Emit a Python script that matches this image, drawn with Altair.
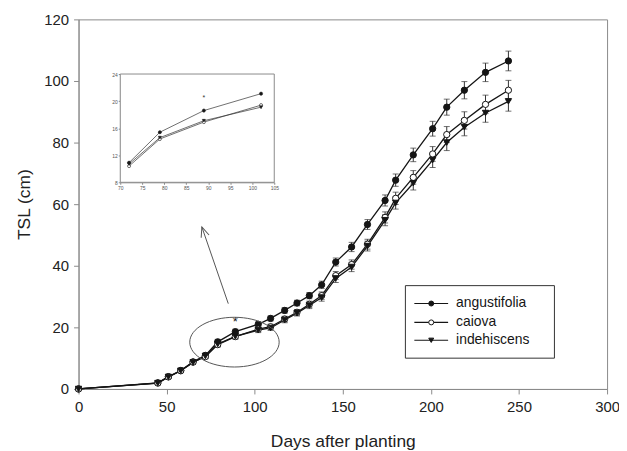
import altair as alt
import pandas as pd

# ---------------- data ----------------
series_names = ["angustifolia", "caiova", "indehiscens"]
days = [0, 45, 51, 58, 65, 72, 79, 89, 102, 109, 117, 124, 131, 138, 146, 155,
        164, 174, 180, 190, 201, 209, 219, 231, 244]
angustifolia = [0, 2.0, 4.0, 6.0, 8.8, 10.9, 15.3, 18.6, 21.0, 22.9, 25.5, 27.9, 30.3,
                33.8, 41.2, 46.1, 53.4, 61.2, 67.8, 76.0, 84.5, 91.5, 97.0, 102.8, 106.5]
caiova = [0, 1.9, 3.9, 5.9, 8.7, 10.5, 14.4, 17.0, 19.4, 20.2, 22.7, 24.9, 27.5,
          30.3, 36.8, 40.4, 47.0, 55.7, 61.9, 68.7, 76.3, 82.6, 87.2, 92.4, 97.0]
indehiscens = [0, 1.9, 3.9, 5.9, 8.6, 10.7, 14.6, 17.1, 19.1, 19.8, 22.4, 24.6, 27.1,
               29.7, 35.9, 39.6, 46.4, 54.8, 60.4, 66.8, 74.3, 80.0, 85.0, 89.6, 93.4]
err_ang = [0, 0.3, 0.4, 0.5, 0.6, 0.7, 0.8, 0.8, 0.8, 0.8, 0.9, 0.9, 1.0, 1.2, 1.3,
           1.5, 1.6, 1.8, 2.0, 2.2, 2.4, 2.6, 2.8, 3.0, 3.2]
err_cai = [0, 0.3, 0.4, 0.5, 0.6, 0.7, 0.8, 0.8, 0.8, 0.8, 0.9, 0.9, 1.0, 1.2, 1.3,
           1.5, 1.6, 1.8, 2.0, 2.2, 2.4, 2.6, 2.8, 3.0, 3.2]
err_ind = [0, 0.3, 0.4, 0.5, 0.6, 0.7, 0.8, 0.8, 0.8, 0.8, 0.9, 0.9, 1.0, 1.2, 1.3,
           1.5, 1.6, 1.8, 2.0, 2.2, 2.4, 2.6, 2.8, 3.0, 3.2]

inset_days = [72, 79, 89, 102]
inset_ang = [10.9, 15.4, 18.6, 21.1]
inset_cai = [10.4, 14.4, 16.9, 19.4]
inset_ind = [10.7, 14.6, 17.1, 19.1]
inset_err = [0.25, 0.25, 0.25, 0.25]

star_day = [89]
star_tsl = [21.6]
inset_star_tsl = [20.4]
ellipse_day = [88.5]
ellipse_tsl = [15.2]
arrow_day = [85.0]
arrow_tsl = [27.7]
arrow_day2 = [70.0]
arrow_tsl2 = [52.6]

x_ticks = [0, 50, 100, 150, 200, 250, 300]
y_ticks = [0, 20, 40, 60, 80, 100, 120]
inset_x_ticks = [70, 75, 80, 85, 90, 95, 100, 105]
inset_y_ticks = [8, 12, 16, 20, 24]

# ---------------- layout ----------------
W, H = 532, 372
INSET_X = [42, 197]
INSET_Y = [164, 55]
FONT = "Liberation Sans"
INK = "#151515"
GRAY = "#8a8a8a"

rows = []
for name, vals, errs in zip(series_names, [angustifolia, caiova, indehiscens],
                            [err_ang, err_cai, err_ind]):
    for d, v, e in zip(days, vals, errs):
        rows.append({"series": name, "day": d, "tsl": v, "lo": v - e, "hi": v + e})
df = pd.DataFrame(rows)

irows = []
for name, vals in zip(series_names, [inset_ang, inset_cai, inset_ind]):
    for d, v, e in zip(inset_days, vals, inset_err):
        irows.append({"series": name, "day": d, "tsl": v, "lo": v - e, "hi": v + e})
idf = pd.DataFrame(irows)

shape_scale = alt.Scale(domain=series_names, range=["circle", "circle", "triangle-down"])
fill_scale = alt.Scale(domain=series_names, range=[INK, "white", INK])

x_axis = alt.Axis(values=x_ticks, title="Days after planting", grid=False, labelFlush=False)
y_axis = alt.Axis(values=y_ticks, title="TSL (cm)", grid=False, labelFlush=False)
x_scale = alt.Scale(domain=[0, 300], nice=False, zero=False)
y_scale = alt.Scale(domain=[0, 120], nice=False, zero=False)


def MX(field):
    return alt.X(f"{field}:Q", scale=x_scale, axis=x_axis)


def MY(field):
    return alt.Y(f"{field}:Q", scale=y_scale, axis=y_axis)


base = alt.Chart(df)
err_rule = base.mark_rule(color="#333", strokeWidth=1).encode(
    x=MX("day"), y=MY("lo"), y2="hi")
cap_lo = base.mark_tick(color="#333", orient="horizontal", size=6, thickness=1).encode(
    x=MX("day"), y=MY("lo"))
cap_hi = base.mark_tick(color="#333", orient="horizontal", size=6, thickness=1).encode(
    x=MX("day"), y=MY("hi"))
lines = base.mark_line(color=INK, strokeWidth=1.3).encode(
    x=MX("day"), y=MY("tsl"), detail="series:N")
points = base.mark_point(filled=True, stroke=INK, strokeWidth=1, opacity=1, size=40).encode(
    x=MX("day"), y=MY("tsl"),
    shape=alt.Shape("series:N", scale=shape_scale, legend=None),
    fill=alt.Fill("series:N", scale=fill_scale, legend=None))

star = alt.Chart(pd.DataFrame({"day": star_day, "tsl": star_tsl, "t": ["*"]})).mark_text(
    font=FONT, fontSize=13, color=INK, baseline="middle").encode(
    x=MX("day"), y=MY("tsl"), text="t:N")

ellipse_path = "M -1 0 A 1 0.556 0 1 1 1 0 A 1 0.556 0 1 1 -1 0 Z"
ellipse = alt.Chart(pd.DataFrame({"day": ellipse_day, "tsl": ellipse_tsl})).mark_point(
    shape=ellipse_path, size=8100, filled=False, stroke="#555", strokeWidth=1, opacity=1).encode(
    x=MX("day"), y=MY("tsl"))

arrow_line = alt.Chart(pd.DataFrame({"day": arrow_day, "tsl": arrow_tsl,
                                     "day2": arrow_day2, "tsl2": arrow_tsl2})).mark_rule(
    color="#555", strokeWidth=1).encode(x=MX("day"), y=MY("tsl"), x2="day2", y2="tsl2")
arrow_head = alt.Chart(pd.DataFrame({"day": arrow_day2, "tsl": arrow_tsl2})).mark_point(
    shape="M -0.5 1.2 L 0 0 L 0.5 1.2", size=280, angle=341, filled=False,
    stroke="#555", strokeWidth=1, opacity=1).encode(x=MX("day"), y=MY("tsl"))

main = alt.layer(err_rule, cap_lo, cap_hi, lines, points, star, ellipse, arrow_line, arrow_head)

# ---------------- inset ----------------
ix_scale = alt.Scale(domain=[70, 105], range=INSET_X, nice=False, zero=False)
iy_scale = alt.Scale(domain=[8, 24], range=INSET_Y, nice=False, zero=False)
ix_axis = alt.Axis(values=inset_x_ticks, orient="bottom", offset=-(H - INSET_Y[0]), title=None,
                   grid=False, labelFontSize=5, tickSize=2, labelPadding=1, labelFlush=False,
                   domainColor=GRAY, tickColor=GRAY, labelColor="#555")
iy_axis = alt.Axis(values=inset_y_ticks, orient="left", offset=-INSET_X[0], title=None,
                   grid=False, labelFontSize=5, tickSize=2, labelPadding=1, labelFlush=False,
                   domainColor=GRAY, tickColor=GRAY, labelColor="#555")


def IX(field):
    return alt.X(f"{field}:Q", scale=ix_scale, axis=ix_axis)


def IY(field):
    return alt.Y(f"{field}:Q", scale=iy_scale, axis=iy_axis)


frame = alt.Chart(pd.DataFrame({"day": [70], "day2": [105], "tsl": [8], "tsl2": [24]})).mark_rect(
    fill="white", stroke=GRAY, strokeWidth=1).encode(x=IX("day"), x2="day2", y=IY("tsl"), y2="tsl2")
ibase = alt.Chart(idf)
i_err = ibase.mark_rule(color="#444", strokeWidth=0.6).encode(x=IX("day"), y=IY("lo"), y2="hi")
i_lines = ibase.mark_line(color="#333", strokeWidth=0.7).encode(
    x=IX("day"), y=IY("tsl"), detail="series:N")
i_points = ibase.mark_point(filled=True, stroke="#222", strokeWidth=0.6, opacity=1, size=10).encode(
    x=IX("day"), y=IY("tsl"),
    shape=alt.Shape("series:N", scale=shape_scale, legend=None),
    fill=alt.Fill("series:N", scale=fill_scale, legend=None))
i_star = alt.Chart(pd.DataFrame({"day": star_day, "tsl": inset_star_tsl, "t": ["*"]})).mark_text(
    font=FONT, fontSize=7, color="#333", baseline="middle").encode(
    x=IX("day"), y=IY("tsl"), text="t:N")

inset = alt.layer(frame, i_err, i_lines, i_points, i_star)

# ---------------- legend ----------------
one = pd.DataFrame({"a": [0]})
legend_layers = [
    alt.Chart(one).mark_rect(fill="white", stroke="#333", strokeWidth=1).encode(
        x=alt.value(329), x2=alt.value(479), y=alt.value(268), y2=alt.value(341))
]
row_y = [286, 305, 323]
leg_shapes = ["circle", "circle", "triangle-down"]
leg_fills = [INK, "white", INK]
for name, ry, shp, fl in zip(series_names, row_y, leg_shapes, leg_fills):
    d = pd.DataFrame({"series": [name]})
    legend_layers.append(alt.Chart(d).mark_rule(color=INK, strokeWidth=1.2).encode(
        x=alt.value(338), x2=alt.value(372), y=alt.value(ry)))
    legend_layers.append(alt.Chart(d).mark_point(shape=shp, fill=fl, stroke=INK, strokeWidth=1,
                                                 filled=True, opacity=1, size=25).encode(
        x=alt.value(355), y=alt.value(ry)))
    legend_layers.append(alt.Chart(d).mark_text(font=FONT, fontSize=14, color=INK, align="left",
                                                baseline="middle").encode(
        x=alt.value(380), y=alt.value(ry), text="series:N"))

chart = alt.layer(main, inset, *legend_layers).resolve_scale(
    x="independent", y="independent"
).properties(
    width=W, height=H,
    autosize=alt.AutoSizeParams(type="none"),
    padding={"left": 71, "top": 10, "right": 12, "bottom": 62},
).configure_view(
    stroke=GRAY, strokeWidth=1
).configure_axis(
    labelFont=FONT, titleFont=FONT, labelFontSize=15, titleFontSize=17.5,
    titleFontWeight="normal", labelColor="#222", titleColor="#222",
    domainColor=GRAY, tickColor=GRAY, tickSize=5
).configure_axisX(
    titlePadding=18, labelPadding=6
).configure_axisY(
    titlePadding=10, labelPadding=5
)

chart.save("out.html", embed_options={"renderer": "svg", "actions": False})
